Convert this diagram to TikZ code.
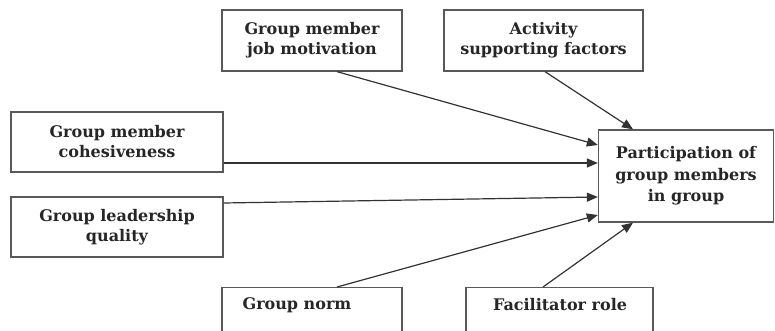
\documentclass[tikz,border=0pt]{standalone}
\usepackage{fontspec}
\setmainfont{DejaVu Serif}
\usetikzlibrary{arrows.meta,calc}
\begin{document}
\begin{tikzpicture}[x=1pt,y=-1pt,
  txt/.style={font=\bfseries\fontsize{16}{20}\selectfont, text=black!85},
  box/.style={draw=black!65, line width=1.3pt, fill=white, align=center, inner sep=0pt, txt},
  link/.style={draw=black!80, line width=1.2pt, -{Triangle[length=11pt,width=9pt]}}]
\useasboundingbox (0,0) rectangle (775,331);
\clip (0,0) rectangle (775,331);
\node[box, minimum width=180pt, minimum height=61pt] (mot) at (312,40.5) {Group member\\job motivation};
\node[box, minimum width=199pt, minimum height=61pt] (act) at (543.5,40.5) {Activity\\supporting factors};
\node[box, minimum width=212pt, minimum height=60pt] (coh) at (117,142) {Group member\\cohesiveness};
\node[box, minimum width=212pt, minimum height=60pt] (lead) at (117,227) {Group leadership\\quality};
\node[box, minimum width=175pt, minimum height=92pt, txt, font=\bfseries\fontsize{16}{21.5}\selectfont] (part) at (686,176) {Participation of\\group members\\in group};
\node[box, minimum width=180pt, minimum height=70pt, anchor=north] (norm) at (312,287) {};
\node[txt, inner sep=0pt] (normtxt) at (297,305) {Group norm};
\node[box, minimum width=187pt, minimum height=70pt, anchor=north] (fac) at (559.5,287) {};
\node[txt, inner sep=0pt] (factxt) at (560,305) {Facilitator role};
\draw[link] ($(mot.south)+(25,0)$) -- ($(part.west)+(0,-31)$);
\draw[link] ($(act.south)+(1.5,0)$) -- ($(part.north)+(-53,0)$);
\draw[link] (coh.east |- 0,163) -- (part.west |- 0,163);
\draw[link] (lead.east |- 0,203) -- (part.west |- 0,197);
\draw[link] ($(norm.north)+(25,0)$) -- ($(part.west)+(0,39)$);
\draw[link] ($(fac.north)+(-16.5,0)$) -- ($(part.south)+(-53,0)$);
\end{tikzpicture}
\end{document}
